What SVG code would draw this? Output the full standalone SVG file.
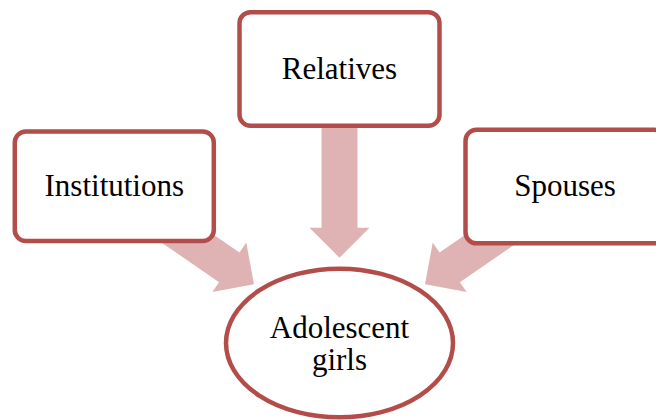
<svg xmlns="http://www.w3.org/2000/svg" width="656" height="420" viewBox="0 0 656 420">
  <style>
    .box { fill: #ffffff; stroke: #B24D4A; stroke-width: 4.5; }
    .arrow { fill: #DFB3B3; stroke: none; }
    .label { font-family: "Liberation Serif", "Times New Roman", serif; font-size: 31px; fill: #000000; text-anchor: middle; }
  </style>
  <defs>
    <!-- block arrow pointing along +x, tip at the origin -->
    <path id="blockArrow" d="M -150 -18 L -30 -18 L -30 -30 L 0 0 L -30 30 L -30 18 L -150 18 Z"/>
  </defs>
  <rect width="656" height="420" fill="#ffffff"/>

  <!-- connectors (drawn beneath the nodes) -->
  <g id="connectors">
    <use href="#blockArrow" class="arrow" transform="translate(339.5 257.7) rotate(90)"/>
    <use href="#blockArrow" class="arrow" transform="translate(254 284.3) rotate(34.5)"/>
    <use href="#blockArrow" class="arrow" transform="translate(425 284.3) rotate(145.5)"/>
  </g>

  <g id="relatives">
    <rect class="box" x="239.5" y="12.2" width="200" height="113.5" rx="11"/>
    <text class="label" x="339.5" y="79.3">Relatives</text>
  </g>

  <g id="institutions">
    <rect class="box" x="14.8" y="131.5" width="199" height="109.5" rx="11"/>
    <text class="label" x="114.3" y="196">Institutions</text>
  </g>

  <g id="spouses">
    <rect class="box" x="465.5" y="129.8" width="200" height="113.5" rx="11"/>
    <text class="label" x="565" y="196">Spouses</text>
  </g>

  <g id="adolescent-girls">
    <ellipse class="box" cx="339.5" cy="343" rx="113.5" ry="74.3"/>
    <text class="label" x="339.5" y="338.3">Adolescent</text>
    <text class="label" x="339.5" y="370">girls</text>
  </g>
</svg>
